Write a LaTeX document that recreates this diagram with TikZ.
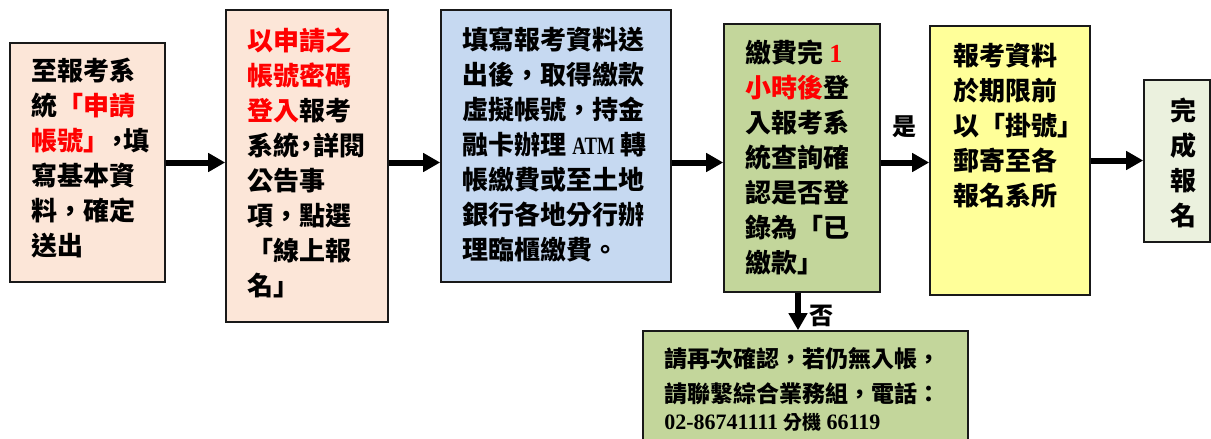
\documentclass[tikz,border=0pt]{standalone}
\usepackage{fontspec}
\setmainfont{Liberation Serif}
\newfontfamily\cjk{Noto Sans CJK TC}
\usetikzlibrary{arrows.meta}

\definecolor{peach}{HTML}{FCE6D8}
\definecolor{paleblue}{HTML}{C6D9F1}
\definecolor{olivegreen}{HTML}{C3D69B}
\definecolor{paleyellow}{HTML}{FFFF99}
\definecolor{palegreen}{HTML}{EBF1DE}
\definecolor{hilite}{HTML}{FF0000}
\newcommand\hl[1]{\textcolor{hilite}{#1}}
\newcommand\lat[2][26]{{\rmfamily\fontsize{#1}{24}\selectfont #2}}

\begin{document}
\begin{tikzpicture}[x=1pt, y=-1pt,
  box/.style={rectangle, draw=black!90, line width=1.6pt, inner sep=0pt},
  txt/.style={anchor=north west, align=left, inner sep=0pt, font=\cjk\bfseries\fontsize{26}{35}\selectfont},
  flow/.style={line width=6pt, -{Triangle[length=17pt,width=18pt]}},
  tag/.style={inner sep=0pt, font=\cjk\bfseries\fontsize{24}{28}\selectfont}]

\useasboundingbox (0,0) rectangle (1211,439);

% steps
\node(apply) [box, fill=peach, minimum width=155pt, minimum height=239pt] at (87.5,162.5) {};
\node(login) [box, fill=peach, minimum width=162pt, minimum height=312pt] at (307,166) {};
\node(pay) [box, fill=paleblue, minimum width=230pt, minimum height=272pt] at (556,146) {};
\node(check) [box, fill=olivegreen, minimum width=156pt, minimum height=268pt] at (802,158) {};
\node(mail) [box, fill=paleyellow, minimum width=160pt, minimum height=269pt] at (1010,160.5) {};
\node(done) [box, fill=palegreen, minimum width=66pt, minimum height=162pt] at (1177,161) {};
\node(retry) [box, fill=olivegreen, minimum width=325pt, minimum height=139pt] at (805.5,400.5) {};

% texts
\node(applytxt) [txt] at ([xshift=22pt,yshift=-16pt]apply.north west) {至報考系\\統\hl{「申請}\\\hl{帳號」}\kern-5pt，\kern-7pt填\\寫基本資\\料，確定\\送出};
\node(logintxt) [txt] at ([xshift=22pt,yshift=-18pt]login.north west) {\hl{以申請之}\\\hl{帳號密碼}\\\hl{登入}報考\\系統\kern-6pt，\kern-6pt詳閱\\公告事\\項，點選\\「線上報\\名」};
\node(paytxt) [txt] at ([xshift=22pt,yshift=-18pt]pay.north west) {填寫報考資料送\\出後，取得繳款\\虛擬帳號，持金\\融卡辦理 \scalebox{0.75}[1]{\lat[25]{ATM}} 轉\\帳繳費或至土地\\銀行各地分行辦\\理臨櫃繳費。};
\node(checktxt) [txt] at ([xshift=22pt,yshift=-17pt]check.north west) {繳費完 \hl{\lat{1}}\\\hl{小時後}登\\入報考系\\統查詢確\\認是否登\\錄為「已\\繳款」};
\node(mailtxt) [txt] at ([xshift=24pt,yshift=-18pt]mail.north west) {報考資料\\於期限前\\以「掛號」\\郵寄至各\\報名系所};
\node(donetxt) [txt] at ([xshift=27pt,yshift=-19pt]done.north west) {完\\成\\報\\名};
\node(retrytxt) [txt, font=\cjk\bfseries\fontsize{23}{35}\selectfont] at ([xshift=22pt,yshift=-17pt]retry.north west) {請再次確認，若仍無入帳，\\請聯繫綜合業務組，電話：\\[-8pt]\lat[22]{02-86741111} {\fontsize{19}{22}\selectfont 分機} \lat[22]{66119}};

% arrows
\draw[flow] (apply.east) -- (apply.east -| login.west);
\draw[flow] (login.east |- apply.east) -- (pay.west |- apply.east);
\draw[flow] (pay.east |- apply.east) -- (check.west |- apply.east);
\draw[flow] (check.east |- apply.east) -- (mail.west |- apply.east);
\draw[flow] (mail.east) -- (mail.east -| done.west);
\draw[flow] ([xshift=-4pt]check.south) -- ([xshift=-4pt]check.south |- retry.north);

% labels
\node(yes) [tag] at (904,127) {是};
\node(no) [tag] at (821,316) {否};

\end{tikzpicture}
\end{document}
